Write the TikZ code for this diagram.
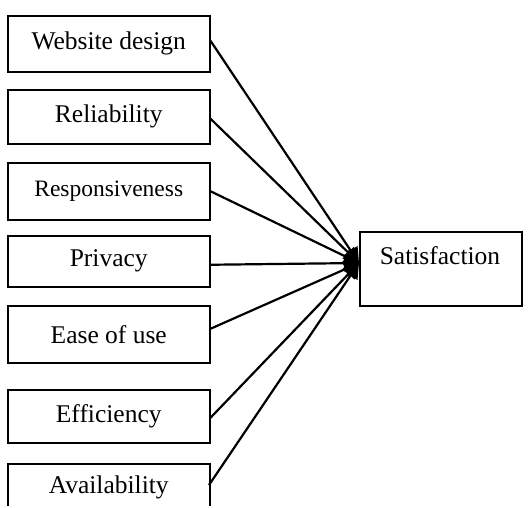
\documentclass[tikz,border=0pt]{standalone}
\usepackage{fontspec}
\setmainfont{Liberation Serif}
\usetikzlibrary{arrows.meta}
\begin{document}
\begin{tikzpicture}[x=1pt,y=-1pt,
  factor/.style={draw=black,line width=1.5pt,minimum width=202pt,inner sep=0pt,
    font=\fontsize{25.5}{30}\selectfont,anchor=north west},
  link/.style={line width=2.2pt,-{Triangle[length=15pt,width=16pt]}}]
\useasboundingbox (0,0) rectangle (532,507);
\begin{scope}
\clip (0,0) rectangle (532,505);
\node[factor,minimum height=56pt] (web) at (7,15) {Website design};
\node[factor,minimum height=54pt] (rel) at (7,89) {Reliability};
\node[factor,minimum height=57pt,font=\fontsize{23.5}{28}\selectfont] (res) at (7,162) {Responsiveness};
\node[factor,minimum height=51pt] (pri) at (7,235) {Privacy};
\node[factor,minimum height=57pt] (eas) at (7,305) {Ease of use};
\node[factor,minimum height=53pt] (eff) at (7,389) {Efficiency};
\node[factor,minimum height=70pt,text depth=28pt] (ava) at (7,463) {Availability};
\end{scope}
\node[draw=black,line width=1.5pt,minimum width=162pt,minimum height=74pt,inner sep=0pt,anchor=north west] (sat) at (359,231) {};
\node[font=\fontsize{25.5}{30}\selectfont,anchor=base] (sattext) at (440,264) {Satisfaction};
\coordinate (tip) at (359,263);
\draw[link] ([yshift=3pt]web.east) -- (tip);
\draw[link] ([yshift=-2pt]rel.east) -- (tip);
\draw[link] (res.east) -- (tip);
\draw[link] ([yshift=-3.5pt]pri.east) -- (tip);
\draw[link] ([yshift=5.5pt]eas.east) -- (tip);
\draw[link] ([yshift=-1.5pt]eff.east) -- (tip);
\draw[link] (209,485) -- (tip);
\end{tikzpicture}
\end{document}
